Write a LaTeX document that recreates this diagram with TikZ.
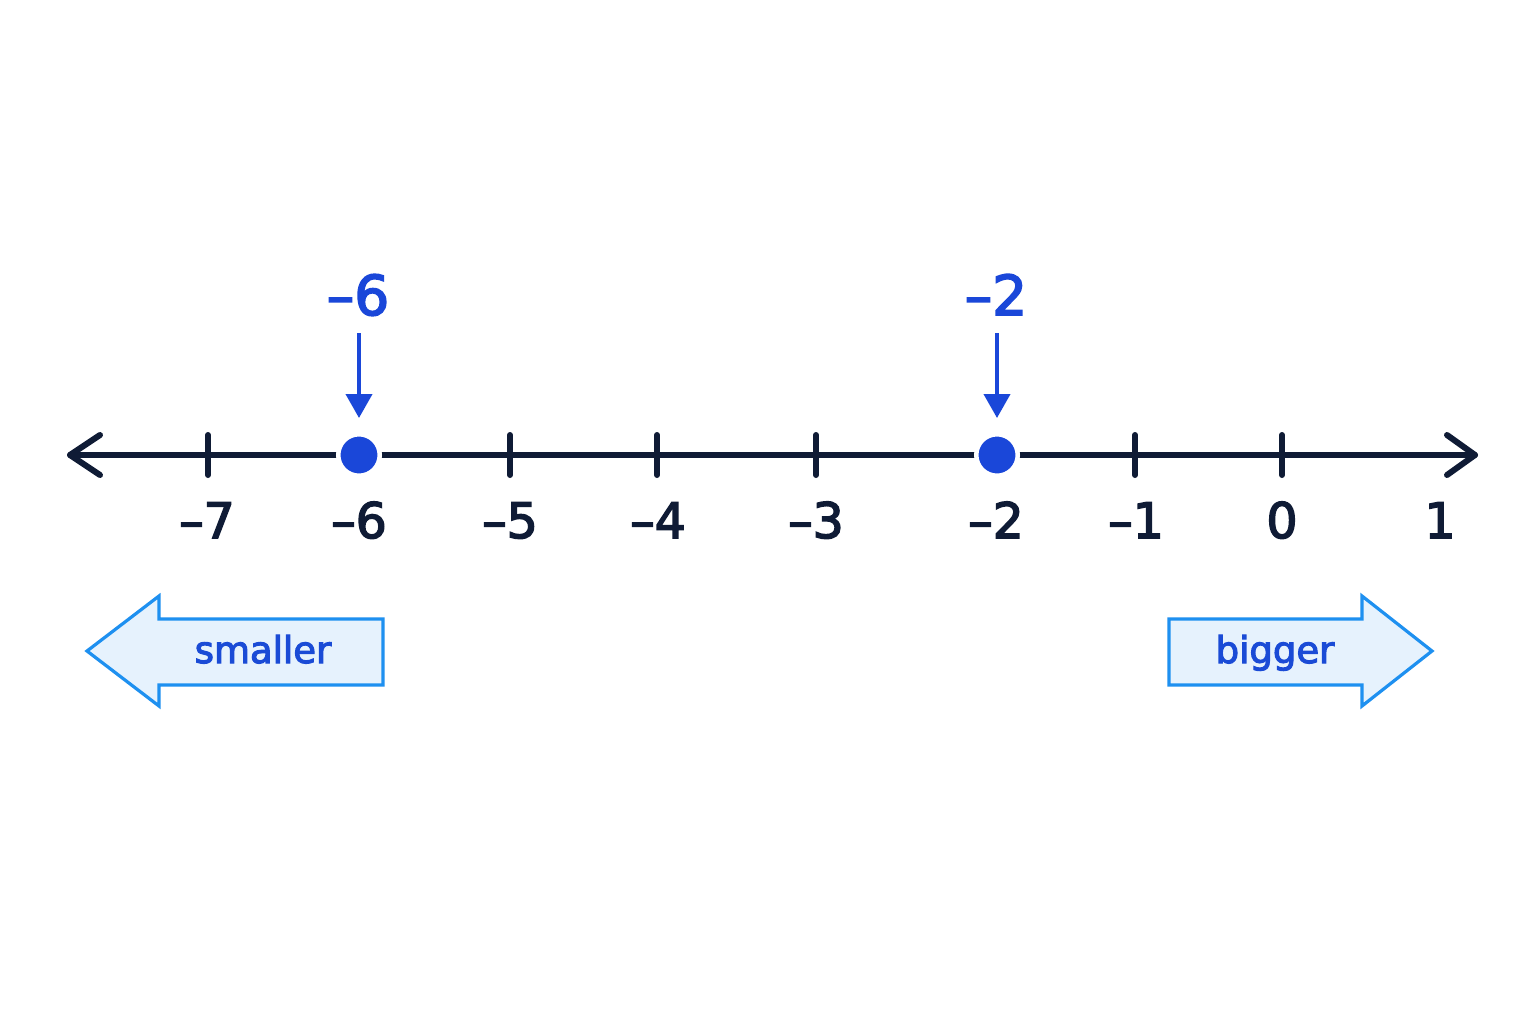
\documentclass[tikz,border=0pt]{standalone}
\usepackage{fontspec}
\setmainfont{DejaVu Sans}[BoldFont=DejaVu Sans, BoldFeatures={FakeBold=3}]
\usetikzlibrary{arrows.meta}
\definecolor{navy}{HTML}{0F1B35}
\definecolor{dotblue}{HTML}{1A47D9}
\definecolor{boxline}{HTML}{1E90F0}
\definecolor{boxfill}{HTML}{E6F2FD}
\definecolor{txtblue}{HTML}{1A4BD6}
\tikzset{
  axisline/.style={draw=navy, line width=3pt, line cap=round, line join=round},
  ticklbl/.style={text=navy, font=\fontsize{24.5}{29}\selectfont\bfseries, anchor=base, inner sep=0pt},
  toplbl/.style={text=dotblue, font=\fontsize{27.5}{32}\selectfont\bfseries, anchor=base, inner sep=0pt},
  ptdot/.style={circle, fill=dotblue, draw=white, line width=2.25pt, minimum size=20.75pt, inner sep=0pt},
  pointer/.style={draw=dotblue, line width=2pt, -{Triangle[length=12pt,width=13pt]}},
  bigarrow/.style={draw=boxline, fill=boxfill, line width=1.6pt, line join=miter},
  arrowtxt/.style={text=txtblue, font=\fontsize{18.5}{22}\selectfont\bfseries, inner sep=0pt, anchor=base}
}
\begin{document}
\begin{tikzpicture}[x=0.5pt,y=-0.5pt]
\useasboundingbox[fill=white] (0,0) rectangle (1536,1024);
% axis
\coordinate (L) at (70,455);
\coordinate (R) at (1475,455);
\draw[axisline] (L) -- (R);
\draw[axisline] (100,435) -- (L) -- (100,475);
\draw[axisline] (1447,435) -- (R) -- (1447,475);
% ticks
\foreach \n/\x in {m7/208,m5/510,m4/657,m3/816,m1/1135,z/1282}{
  \coordinate (t\n) at (\x,455);
  \draw[axisline] (\x,435) -- (\x,475);
}
% tick labels
\node[ticklbl] (l7) at (207,538) {–7};
\node[ticklbl] (l6) at (359,538) {–6};
\node[ticklbl] (l5) at (510,538) {–5};
\node[ticklbl] (l4) at (658,538) {–4};
\node[ticklbl] (l3) at (816,538) {–3};
\node[ticklbl] (l2) at (996,538) {–2};
\node[ticklbl] (l1) at (1136,538) {–1};
\node[ticklbl] (l0) at (1282,538) {0};
\node[ticklbl] (lp1) at (1440,538) {1};
% points
\node[ptdot] (d6) at (359,455) {};
\node[ptdot] (d2) at (997,455) {};
% top labels and pointers
\node[toplbl] (n6) at (358,315) {–6};
\node[toplbl] (n2) at (996,315) {–2};
\coordinate (s6) at (359,333);
\coordinate (e6) at (359,418);
\coordinate (s2) at (997,333);
\coordinate (e2) at (997,418);
\draw[pointer] (s6) -- (e6);
\draw[pointer] (s2) -- (e2);
% big arrows
\draw[bigarrow] (87,651) -- (159,596) -- (159,619) -- (383,619) -- (383,685) -- (159,685) -- (159,706) -- cycle;
\node[arrowtxt] (sm) at (263,663) {smaller};
\draw[bigarrow] (1432,651) -- (1362,596) -- (1362,619) -- (1169,619) -- (1169,685) -- (1362,685) -- (1362,706) -- cycle;
\node[arrowtxt] (bg) at (1275,663) {bigger};
\end{tikzpicture}
\end{document}
